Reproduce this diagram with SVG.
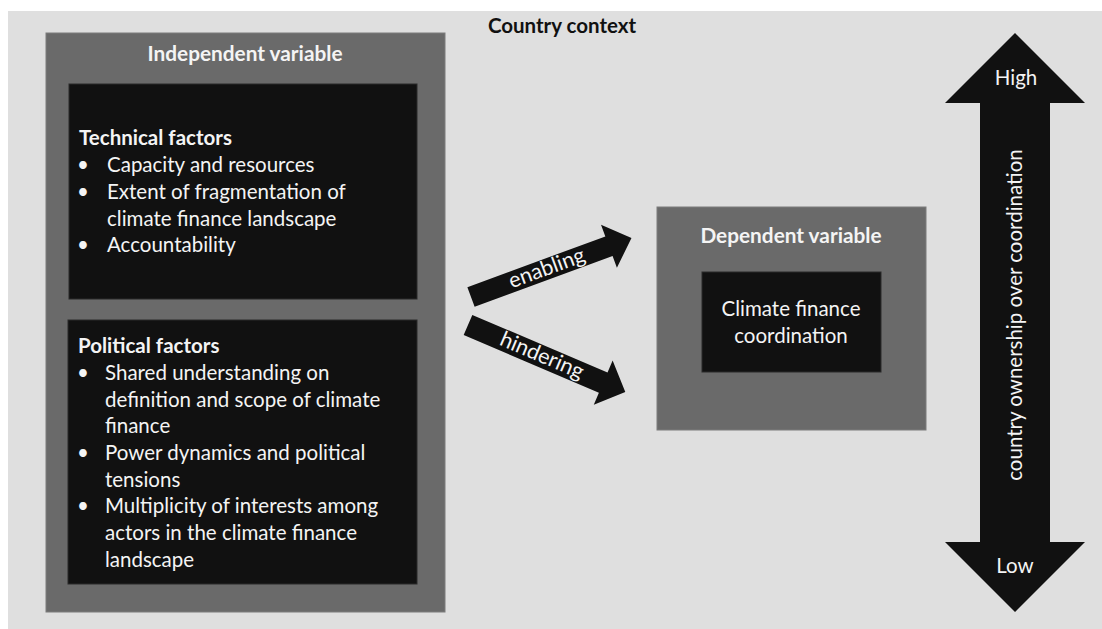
<svg xmlns="http://www.w3.org/2000/svg" width="1102" height="629" viewBox="0 0 1102 629">
  <style>
    .frame { fill: #6a6a6a; stroke: #7c7c7c; stroke-width: 1; }
    .panel { fill: #111111; stroke: #2a2a2a; stroke-width: 1; }
    .arrow { fill: #111111; }
    text { font-family: Lato, "Open Sans", "Liberation Sans", sans-serif; fill: #f4f4f4; font-size: 20.5px; }
    .head { font-weight: bold; font-size: 20.8px; }
    .mid { text-anchor: middle; }
    .dark { fill: #111111; }
    .tag { font-size: 21.5px; }
  </style>

  <!-- country context backdrop -->
  <rect x="8" y="11" width="1094" height="618" fill="#dfdfdf"/>
  <text class="head mid dark" x="562" y="33" style="font-size:20.5px">Country context</text>

  <!-- independent variable -->
  <g id="independent">
    <rect class="frame" x="46" y="33" width="399" height="579"/>
    <text class="head mid" x="245" y="61">Independent variable</text>
  </g>

  <g id="technical">
    <rect class="panel" x="69" y="84" width="348" height="215"/>
    <text class="head" x="79" y="145" style="font-size:20.5px">Technical factors</text>
    <text x="77" y="172">•</text><text x="107" y="172">Capacity and resources</text>
    <text x="77" y="199">•</text><text x="107" y="199">Extent of fragmentation of</text>
    <text x="107" y="226">climate finance landscape</text>
    <text x="77" y="252">•</text><text x="107" y="252">Accountability</text>
  </g>

  <g id="political">
    <rect class="panel" x="68" y="320" width="349" height="264"/>
    <text class="head" x="78" y="353" style="font-size:20.5px">Political factors</text>
    <text x="77" y="380">•</text><text x="105" y="380">Shared understanding on</text>
    <text x="105" y="407">definition and scope of climate</text>
    <text x="105" y="433">finance</text>
    <text x="77" y="460">•</text><text x="105" y="460">Power dynamics and political</text>
    <text x="105" y="487">tensions</text>
    <text x="77" y="513">•</text><text x="105" y="513">Multiplicity of interests among</text>
    <text x="105" y="540">actors in the climate finance</text>
    <text x="105" y="567">landscape</text>
  </g>

  <!-- dependent variable -->
  <g id="dependent">
    <rect class="frame" x="657" y="207" width="269" height="223"/>
    <text class="head mid" x="791" y="243">Dependent variable</text>
  </g>
  <g id="coordination">
    <rect class="panel" x="702" y="272" width="179" height="100"/>
    <text class="mid" x="791" y="316">Climate finance</text>
    <text class="mid" x="791" y="343">coordination</text>
  </g>

  <!-- connectors -->
  <g id="connectors">
    <g transform="translate(471 297) rotate(-20.2)">
      <polygon class="arrow" points="0,-10.5 147,-10.5 147,-23 171,0 147,23 147,10.5 0,10.5"/>
      <text class="mid tag" x="81" y="6">enabling</text>
    </g>
    <g transform="translate(468 325) rotate(23.1)">
      <polygon class="arrow" points="0,-11 147,-11 147,-24 171,0 147,24 147,11 0,11"/>
      <text class="mid tag" x="80" y="6">hindering</text>
    </g>
  </g>

  <!-- ownership scale -->
  <g id="ownership">
    <polygon class="arrow" points="1015,33 1085,103 1050,103 1050,542 1085,542 1015,612 945,542 980,542 980,103 945,103"/>
    <text class="mid" x="1016" y="85">High</text>
    <text class="mid" x="1015" y="573">Low</text>
    <text class="mid" transform="translate(1022 315) rotate(-90)" x="0" y="0">country ownership over coordination</text>
  </g>
</svg>
